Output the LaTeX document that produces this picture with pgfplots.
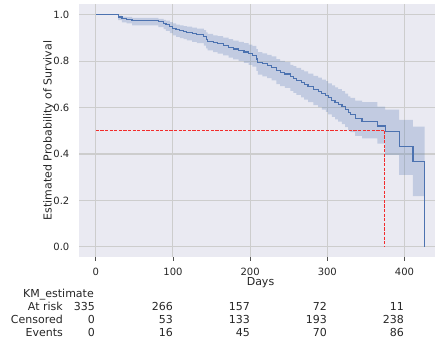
\documentclass[border=0pt]{standalone}
\usepackage{pgfplots}
\pgfplotsset{compat=1.18}
\usepackage{pgfplotstable}
\usepgfplotslibrary{fillbetween}
\usepackage{fontspec}
\setmainfont{DejaVu Sans}
\definecolor{kmblue}{HTML}{4C72B0}
\definecolor{bgcol}{HTML}{EAEAF2}
\definecolor{gridcol}{HTML}{CDCDCD}
\definecolor{txt}{HTML}{262626}
\definecolor{medred}{HTML}{F22C2C}

\pgfplotstableread{
t S lo hi
0 1.000 1.000 1.000
29 0.991 0.977 0.997
34 0.985 0.968 0.993
40 0.982 0.963 0.991
47 0.976 0.955 0.987
81 0.970 0.947 0.983
88 0.964 0.939 0.979
91 0.958 0.931 0.975
96 0.950 0.921 0.969
100 0.942 0.912 0.963
104 0.936 0.905 0.958
109 0.932 0.900 0.955
114 0.928 0.895 0.952
118 0.924 0.890 0.949
125 0.919 0.884 0.945
131 0.914 0.878 0.941
140 0.905 0.867 0.934
143 0.895 0.856 0.925
145 0.887 0.847 0.918
152 0.880 0.839 0.912
158 0.875 0.833 0.908
165 0.868 0.825 0.902
172 0.860 0.816 0.895
178 0.853 0.808 0.889
185 0.847 0.801 0.884
192 0.840 0.793 0.878
198 0.833 0.785 0.872
203 0.826 0.777 0.866
208 0.810 0.759 0.852
210 0.795 0.742 0.839
216 0.789 0.735 0.834
222 0.782 0.727 0.828
228 0.774 0.718 0.821
234 0.760 0.702 0.809
239 0.752 0.693 0.802
245 0.745 0.685 0.796
252 0.733 0.672 0.785
256 0.726 0.664 0.779
260 0.718 0.655 0.772
266 0.708 0.644 0.763
270 0.700 0.635 0.756
275 0.690 0.624 0.747
282 0.678 0.611 0.737
288 0.670 0.602 0.730
293 0.660 0.591 0.721
298 0.652 0.582 0.714
301 0.642 0.571 0.705
306 0.632 0.560 0.696
310 0.622 0.549 0.687
314 0.614 0.540 0.680
319 0.604 0.529 0.671
323 0.592 0.516 0.660
327 0.580 0.503 0.649
330 0.572 0.494 0.642
336 0.555 0.478 0.630
345 0.540 0.468 0.624
365 0.521 0.445 0.604
375 0.498 0.396 0.592
393 0.432 0.310 0.547
411 0.369 0.219 0.518
426 0.000 0.219 0.518
}\km

\begin{document}
\begin{tikzpicture}[x=1bp,y=1bp]
\begin{axis}[
  at={(79bp,84bp)}, anchor=south west,
  scale only axis, width=363bp, height=253bp,
  xmin=-21.7, xmax=448.6, ymin=-0.044, ymax=1.047,
  axis background/.style={fill=bgcol},
  axis line style={draw=none},
  grid=major, major grid style={gridcol, line width=1.1bp},
  xtick={0,100,200,300,400}, ytick={0,0.2,0.4,0.6,0.8,1.0},
  xtick pos=bottom, ytick pos=left,
  tick align=outside, major tick length=3.5bp,
  xtick style={color=txt!80, line width=0.8bp},
  ytick style={draw=none},
  yticklabel={\pgfmathprintnumber[fixed,fixed zerofill,precision=1]{\tick}},
  /pgf/number format/assume math mode=true,
  ticklabel style={font=\fontsize{10bp}{12bp}\selectfont, text=txt, inner sep=0pt},
  xticklabel style={anchor=base, yshift=-15bp},
  yticklabel style={anchor=east, xshift=-6bp},
  xlabel={Days}, ylabel={Estimated Probability of Survival},
  label style={font=\fontsize{11bp}{13bp}\selectfont, text=txt, inner sep=0pt},
  xlabel style={at={(axis description cs:0.5,0)}, anchor=base, yshift=-28.3bp},
  ylabel style={at={(axis description cs:-0.0840,0.5)}, anchor=center},
  clip=true,
]
\addplot[name path=hi, draw=none, const plot, forget plot] table[x=t,y=hi]{\km};
\addplot[name path=lo, draw=none, const plot, forget plot] table[x=t,y=lo]{\km};
\addplot[fill=kmblue, fill opacity=0.25, draw=none] fill between[of=hi and lo];
\addplot[kmblue, line width=1.1bp, const plot] table[x=t,y=S]{\km};
\addplot[medred, line width=1bp, dash pattern=on 3.2bp off 1.4bp] coordinates {(0,0.5) (374.7,0.5)};
\addplot[medred, line width=1bp, dash pattern=on 3.2bp off 1.4bp] coordinates {(374.7,0.5) (374.7,0)};
\end{axis}
\begin{scope}[every node/.style={inner sep=0pt, text=txt, font=\fontsize{11bp}{13bp}\selectfont}]
\node[anchor=base east] at (94,43.3) {KM\_estimate};
\node[anchor=base east] at (63,30.4) {At risk};
\node[anchor=base east] at (63,17.7) {Censored};
\node[anchor=base east] at (63,5.0) {Events};
\node[anchor=base east] at (95,30.4) {335};
\node[anchor=base east] at (95,17.7) {0};
\node[anchor=base east] at (95,5.0) {0};
\node[anchor=base east] at (173,30.4) {266};
\node[anchor=base east] at (173,17.7) {53};
\node[anchor=base east] at (173,5.0) {16};
\node[anchor=base east] at (250,30.4) {157};
\node[anchor=base east] at (250,17.7) {133};
\node[anchor=base east] at (250,5.0) {45};
\node[anchor=base east] at (327,30.4) {72};
\node[anchor=base east] at (327,17.7) {193};
\node[anchor=base east] at (327,5.0) {70};
\node[anchor=base east] at (404,30.4) {11};
\node[anchor=base east] at (404,17.7) {238};
\node[anchor=base east] at (404,5.0) {86};
\end{scope}
\pgfresetboundingbox
\path[use as bounding box] (0,0) rectangle (435,341);
\end{tikzpicture}
\end{document}
